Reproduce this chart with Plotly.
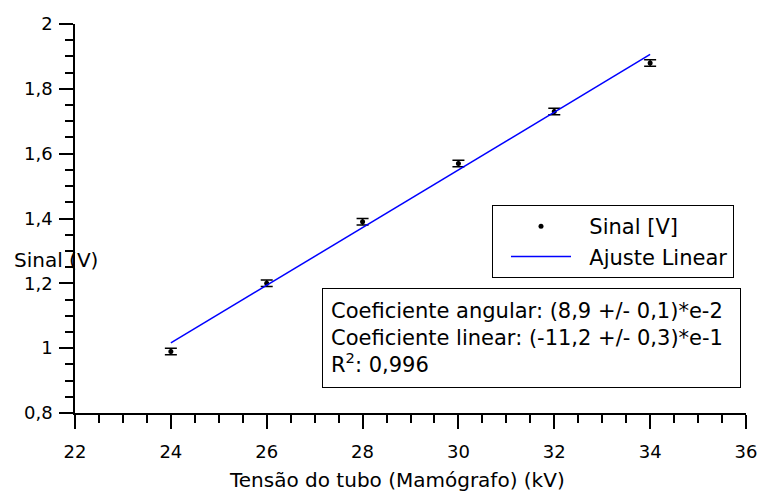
import plotly.graph_objects as go

# Measured signal versus tube voltage
tensao_kv = [24, 26, 28, 30, 32, 34]
sinal_v = [0.99, 1.20, 1.39, 1.57, 1.73, 1.88]
erro_v = [0.01, 0.01, 0.01, 0.01, 0.01, 0.01]

# Linear fit coefficients (slope, intercept)
coef_angular = 8.9e-2
coef_linear = -11.2e-1
ajuste_x = [24, 34]
ajuste_y = [coef_angular * x + coef_linear for x in ajuste_x]

x_ticks = [22, 24, 26, 28, 30, 32, 34, 36]
y_ticks = [0.8, 1.0, 1.2, 1.4, 1.6, 1.8, 2.0]
y_tick_text = ["0,8", "1", "1,2", "1,4", "1,6", "1,8", "2"]

FONT = "DejaVu Sans"
GAP = "\u00a0\u00a0"  # extra space between legend symbol and label

fig = go.Figure()
fig.add_trace(go.Scatter(
    x=tensao_kv, y=sinal_v, mode="markers", name=GAP + "Sinal [V]",
    marker=dict(color="black", size=5),
    error_y=dict(type="data", array=erro_v, color="black", thickness=1.5, width=6),
))
fig.add_trace(go.Scatter(
    x=ajuste_x, y=ajuste_y, mode="lines", name=GAP + "Ajuste Linear",
    line=dict(color="#0000ff", width=1.5),
))

fig.update_layout(
    width=760, height=495,
    margin=dict(l=75, r=14, t=24, b=82),
    paper_bgcolor="white", plot_bgcolor="white",
    font=dict(family=FONT, size=18, color="black"),
    showlegend=True,
    legend=dict(
        x=(492 - 75) / 671, y=(413 - 205) / 389, xanchor="left", yanchor="top",
        bordercolor="black", borderwidth=1, bgcolor="white",
        font=dict(family=FONT, size=21), itemwidth=60, indentation=13,
    ),
)

fig.update_xaxes(
    range=[22, 36], tickvals=x_ticks, ticktext=[str(v) for v in x_ticks],
    automargin=False,
    showline=True, linecolor="black", linewidth=1.5, showgrid=False, zeroline=False,
    ticks="outside", ticklen=14, tickwidth=1.5, tickcolor="black",
    ticklabelstandoff=8,
    tickfont=dict(family=FONT, size=18),
    minor=dict(dtick=0.5, ticks="outside", ticklen=8, tickwidth=1.5, tickcolor="black", showgrid=False),
)
fig.update_yaxes(
    range=[0.8, 2.0], tickvals=y_ticks, ticktext=y_tick_text,
    automargin=False,
    showline=True, linecolor="black", linewidth=1.5, showgrid=False, zeroline=False,
    ticks="outside", ticklen=14, tickwidth=1.5, tickcolor="black",
    ticklabelstandoff=3,
    tickfont=dict(family=FONT, size=18),
    minor=dict(dtick=0.05, ticks="outside", ticklen=8, tickwidth=1.5, tickcolor="black", showgrid=False),
)

# Axis titles
fig.add_annotation(
    text="Tensão do tubo (Mamógrafo) (kV)", xref="paper", yref="paper",
    x=(397 - 75) / 671, y=(413 - 480) / 389, xanchor="center", yanchor="middle",
    showarrow=False, font=dict(family=FONT, size=20),
)
fig.add_annotation(
    text="Sinal (V)", xref="paper", yref="paper",
    x=(12 - 75) / 671, y=(413 - 260) / 389, xanchor="left", yanchor="middle",
    showarrow=False, font=dict(family=FONT, size=20),
)

# Fit summary box
fig.add_annotation(
    text=("Coeficiente angular: (8,9 +/- 0,1)*e-2<br>"
          "Coeficiente linear: (-11,2 +/- 0,3)*e-1<br>"
          "R<sup>2</sup>: 0,996"),
    xref="paper", yref="paper",
    x=(322 - 75) / 671, y=(413 - 288) / 389, xanchor="left", yanchor="top",
    align="left", showarrow=False, bordercolor="black", borderwidth=1,
    bgcolor="white", width=401, height=82, borderpad=8,
    font=dict(family=FONT, size=21),
)

fig.write_html("out.html")
